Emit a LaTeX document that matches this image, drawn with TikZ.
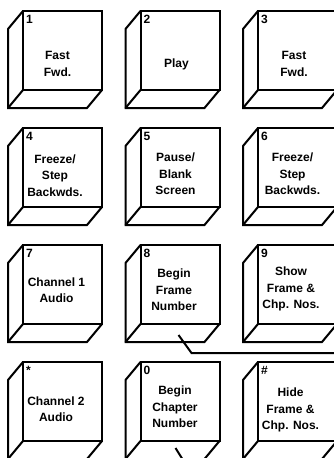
\documentclass[tikz,border=0pt]{standalone}
\usepackage{fontspec}
\setmainfont{Liberation Sans}
\usetikzlibrary{positioning, calc}
\tikzset{
  keyface/.style={rectangle, draw=black, line width=2pt, minimum width=79pt,
                  minimum height=79pt, inner sep=0pt, outer sep=0pt},
  keybevel/.style={draw=black, line width=2pt},
  keytext/.style={align=center, inner sep=0pt, font=\bfseries\fontsize{12}{16.5}\selectfont},
  keynum/.style={inner sep=0pt, font=\bfseries\fontsize{12}{14}\selectfont},
  wire/.style={draw=black, line width=2pt},
}

\begin{document}
\begin{tikzpicture}[node distance=38pt and 38.5pt]
  \useasboundingbox (0,0) rectangle (334pt,-458pt);
  \clip (0,0) rectangle (334pt,-458pt);

  %% ---- KEY FACES ----
  \node[keyface] (k1) at (62.5pt,-50.5pt) {};
  \node[keyface, right=of k1] (k2) {};
  \node[keyface, right=of k2] (k3) {};
  \node[keyface, below=of k1] (k4) {};
  \node[keyface, right=of k4] (k5) {};
  \node[keyface, right=of k5] (k6) {};
  \node[keyface, below=of k4] (k7) {};
  \node[keyface, right=of k7] (k8) {};
  \node[keyface, right=of k8] (k9) {};
  \node[keyface, below=of k7] (kstar) {};
  \node[keyface, right=of kstar] (k0) {};
  \node[keyface, right=of k0] (khash) {};

  %% ---- BEVELS ----
  \foreach \k in {k1,k2,k3,k4,k5,k6,k7,k8,k9,kstar,k0,khash} {
    \draw[keybevel] (\k.north west) -- ++(-15pt,-18pt)
      -- ($(\k.south west)+(-15pt,-18pt)$) -- ($(\k.south east)+(-15pt,-18pt)$)
      -- (\k.south east);
    \draw[keybevel] (\k.south west) -- ++(-15pt,-18pt);
  }

  %% ---- KEY NUMBERS ----
  \node[keynum, below right=4pt and 3pt of k1.north west] (n1) {1};
  \node[keynum, below right=4pt and 3pt of k2.north west] (n2) {2};
  \node[keynum, below right=4pt and 3pt of k3.north west] (n3) {3};
  \node[keynum, below right=4pt and 3pt of k4.north west] (n4) {4};
  \node[keynum, below right=4pt and 3pt of k5.north west] (n5) {5};
  \node[keynum, below right=4pt and 3pt of k6.north west] (n6) {6};
  \node[keynum, below right=4pt and 3pt of k7.north west] (n7) {7};
  \node[keynum, below right=4pt and 3pt of k8.north west] (n8) {8};
  \node[keynum, below right=4pt and 3pt of k9.north west] (n9) {9};
  \node[keynum, below right=4pt and 3pt of kstar.north west] (nstar) {*};
  \node[keynum, below right=4pt and 3pt of k0.north west] (n0) {0};
  \node[keynum, below right=4pt and 3pt of khash.north west] (nhash) {\#};

  %% ---- KEY TEXTS ----
  \node[keytext] (t1) at ($(k1.center)+(-5pt,-13.5pt)$) {Fast\\Fwd.};
  \node[keytext] (t2) at ($(k2.center)+(-3.5pt,-13.5pt)$) {Play};
  \node[keytext] (t3) at ($(k3.center)+(-3.5pt,-13.5pt)$) {Fast\\Fwd.};
  \node[keytext] (t4) at ($(k4.center)+(-7.5pt,-8pt)$) {Freeze/\\Step\\Backwds.};
  \node[keytext] (t5) at ($(k5.center)+(-4.5pt,-6.5pt)$) {Pause/\\Blank\\Screen};
  \node[keytext] (t6) at ($(k6.center)+(-5pt,-6.5pt)$) {Freeze/\\Step\\Backwds.};
  \node[keytext] (t7) at ($(k7.center)+(-6pt,-5.5pt)$) {Channel 1\\Audio};
  \node[keytext] (t8) at ($(k8.center)+(-6pt,-5.5pt)$) {Begin\\Frame\\Number};
  \node[keytext] (t9) at ($(k9.center)+(-6.5pt,-4.5pt)$) {Show\\Frame \&\\Chp. Nos.};
  \node[keytext] (tstar) at ($(kstar.center)+(-6.5pt,-7.5pt)$) {Channel 2\\Audio};
  \node[keytext] (t0) at ($(k0.center)+(-5pt,-5.5pt)$) {Begin\\Chapter\\Number};
  \node[keytext] (thash) at ($(khash.center)+(-7pt,-8.5pt)$) {Hide\\Frame \&\\Chp. Nos.};

  %% ---- WIRES ----
  \coordinate (k8tap) at ($(k8.south)+(-1.5pt,-11pt)$);
  \coordinate (k8bend) at ($(k8tap)+(13pt,-18pt)$);
  \coordinate (k8out) at ($(k8bend)+(160pt,0)$);
  \draw[wire] (k8tap) -- (k8bend) -- (k8out);

  \coordinate (k0tap) at ($(k0.south)+(-4.5pt,-7pt)$);
  \coordinate (k0out) at ($(k0tap)+(10pt,-16pt)$);
  \draw[wire] (k0tap) -- (k0out);

\end{tikzpicture}
\end{document}
